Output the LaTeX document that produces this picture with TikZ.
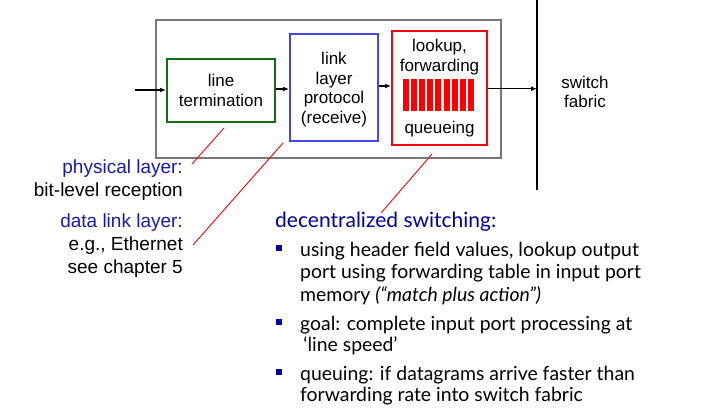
\documentclass[tikz,border=0pt]{standalone}
\usepackage{fontspec}
\setmainfont{Liberation Sans}
\newfontfamily\gillfont{Lato}
\usetikzlibrary{arrows.meta}
\definecolor{dkblue}{RGB}{0,0,160}
\definecolor{lblue}{RGB}{26,26,170}
\definecolor{bxgreen}{RGB}{20,110,20}
\definecolor{bxblue}{RGB}{70,70,230}
\definecolor{bxgray}{RGB}{120,120,120}
\tikzset{
  diag/.style={font=\fontsize{17}{19.5}\selectfont, align=center, inner sep=0pt},
  lbl/.style={font=\fontsize{19}{23}\selectfont, align=right, inner sep=0pt},
  gtxt/.style={font=\gillfont\fontsize{19.4}{22}\selectfont, anchor=base west, inner sep=0pt},
  flow/.style={line width=1.6pt, -{Latex[length=6pt,width=5pt]}},
  callout/.style={red, line width=0.9pt},
  bul/.style={fill=dkblue, draw=none},
}
\begin{document}
\begin{tikzpicture}[x=1pt,y=-1pt]
\useasboundingbox (0,0) rectangle (723,414);
% outer box
\draw[bxgray, line width=1.3pt] (156,20) rectangle (501,158);
% component boxes
\node[draw=bxgreen, line width=2pt, minimum width=108pt, minimum height=63pt, inner sep=0pt] (lt) at (221,90.5) {};
\node[diag] at (lt.center) {line\\termination};
\node[draw=bxblue, line width=2pt, minimum width=88pt, minimum height=107pt, inner sep=0pt] (llp) at (334,87.5) {};
\node[diag] at (334,89.5) {link\\layer\\protocol\\(receive)};
\node[draw=red, line width=2pt, minimum width=95pt, minimum height=114pt, inner sep=0pt] (lf) at (439.5,88) {};
\node[diag] (lk) at (439.5,57) {lookup,\\forwarding};
\node[diag] (qu) at (439.5,129) {queueing};
% queue bars
\foreach \i in {0,...,8} {
  \fill[red] (403+\i*8.1,79) rectangle ++(6,32);
}
% fabric line
\coordinate (ftop) at (537,0);
\coordinate (fbot) at (537,190);
\draw[line width=1.3pt] (ftop) -- (fbot);
\node[diag] (sf) at (585,92) {switch\\fabric};
% arrows
\coordinate (in) at (135,90);
\coordinate (outend) at (537,88.7);
\draw[flow] (in) -- (lt.west |- in);
\draw[flow] (lt.east |- 0,89) -- (llp.west |- 0,89);
\draw[flow] (llp.east |- 0,86) -- (lf.west |- 0,86);
\draw[flow] (lf.east |- outend) -- (outend);
% left labels
\node[lbl, anchor=east] (phy) at (183,180.5) {\textcolor{lblue}{physical layer:}\\bit-level reception};
\node[lbl, anchor=east] (dll) at (183,245.5) {\textcolor{lblue}{data link layer:}\\e.g., Ethernet\\see chapter 5};
% callouts
\coordinate (c1a) at (192,164);
\coordinate (c1b) at (224,128);
\coordinate (c2a) at (193,245);
\coordinate (c2b) at (283,143);
\coordinate (c3a) at (381,213);
\coordinate (c3b) at (432,154);
\draw[callout] (c1a) -- (c1b);
\draw[callout] (c2a) -- (c2b);
\draw[callout] (c3a) -- (c3b);
% decentralized switching
\node[gtxt, text=dkblue, font=\gillfont\fontsize{21}{24}\selectfont] (hd) at (275,227.7) {decentralized switching:};
\node[gtxt] (b1a) at (300,256.7) {using header field values, lookup output};
\node[gtxt] (b1b) at (300,279) {port using forwarding table in input port};
\node[gtxt] (b1c) at (300,301.7) {memory \textit{(“match plus action”)}};
\node[gtxt] (b2a) at (300,330) {goal: complete input port processing at};
\node[gtxt] (b2b) at (300,351.7) {\,‘line speed’};
\node[gtxt] (b3a) at (300,380) {queuing: if datagrams arrive faster than};
\node[gtxt] (b3b) at (300,401.7) {forwarding rate into switch fabric};
\fill[bul] (276,245.2) rectangle (282,251.2);
\fill[bul] (276,318.5) rectangle (282,324.5);
\fill[bul] (276,368.5) rectangle (282,374.5);
\end{tikzpicture}
\end{document}
